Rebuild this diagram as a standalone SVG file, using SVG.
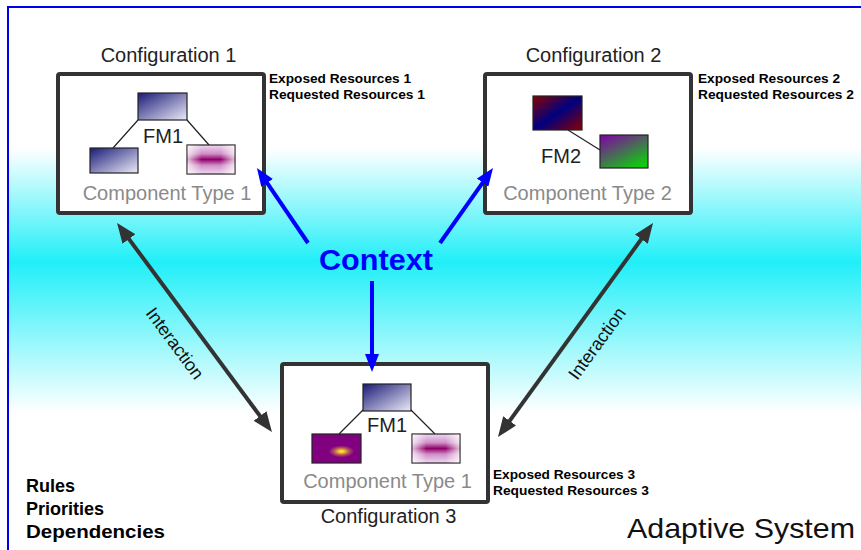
<svg xmlns="http://www.w3.org/2000/svg" width="861" height="550" viewBox="0 0 861 550">
  <style>
    text { font-family: "Liberation Sans", Arial, sans-serif; }
    .frame { fill: #ffffff; stroke: #333333; stroke-width: 4; }
    .cfg { font-size: 20px; fill: #222222; text-anchor: middle; }
    .ctype { font-size: 20px; fill: #8a8a8a; text-anchor: middle; }
    .fm { font-size: 20px; fill: #222222; text-anchor: middle; }
    .res { font-size: 13px; font-weight: bold; fill: #000000; }
    .tree { stroke: #222222; stroke-width: 1.2; fill: none; }
    .comp { stroke: #222222; stroke-width: 1.2; }
    .ctx { stroke: #0000ff; stroke-width: 4; fill: none; }
    .inter { stroke: #333333; stroke-width: 4; fill: none; }
    .interLabel { font-size: 18px; fill: #111111; text-anchor: middle; }
    .note { font-size: 18px; font-weight: bold; fill: #000000; }
  </style>
  <defs>
    <linearGradient id="bg" x1="0" y1="0" x2="0" y2="550" gradientUnits="userSpaceOnUse">
      <stop offset="0.27" stop-color="#ffffff"/>
      <stop offset="0.476" stop-color="#20eff8"/>
      <stop offset="0.75" stop-color="#ffffff"/>
    </linearGradient>
    <linearGradient id="navy" x1="0" y1="0" x2="1" y2="1">
      <stop offset="0" stop-color="#1a1a78"/>
      <stop offset="1" stop-color="#ecebf8"/>
    </linearGradient>
    <!-- magenta band: vertical falloff, softened at the ends by a white overlay -->
    <linearGradient id="band" x1="0" y1="0" x2="0" y2="1">
      <stop offset="0" stop-color="#f0d8f0"/>
      <stop offset="0.3" stop-color="#d090c8"/>
      <stop offset="0.5" stop-color="#900068"/>
      <stop offset="0.7" stop-color="#d090c8"/>
      <stop offset="1" stop-color="#f0d8f0"/>
    </linearGradient>
    <linearGradient id="bandEnds" x1="0" y1="0" x2="1" y2="0">
      <stop offset="0" stop-color="#ffffff" stop-opacity="0.75"/>
      <stop offset="0.3" stop-color="#ffffff" stop-opacity="0"/>
      <stop offset="0.7" stop-color="#ffffff" stop-opacity="0"/>
      <stop offset="1" stop-color="#ffffff" stop-opacity="0.75"/>
    </linearGradient>
    <radialGradient id="hot" cx="0.6" cy="0.6" r="0.5" gradientTransform="translate(0.6 0.6) scale(0.7 0.55) translate(-0.6 -0.6)">
      <stop offset="0" stop-color="#ffff10"/>
      <stop offset="0.18" stop-color="#f0c030"/>
      <stop offset="0.45" stop-color="#b05060"/>
      <stop offset="0.75" stop-color="#800080"/>
      <stop offset="1" stop-color="#800080"/>
    </radialGradient>
    <linearGradient id="redNavy" x1="0" y1="0" x2="1" y2="1">
      <stop offset="0" stop-color="#8a0000"/>
      <stop offset="0.5" stop-color="#000080"/>
      <stop offset="1" stop-color="#8a0000"/>
    </linearGradient>
    <linearGradient id="purpleGreen" x1="0" y1="0" x2="0.7" y2="1">
      <stop offset="0" stop-color="#8000a8"/>
      <stop offset="0.5" stop-color="#506060"/>
      <stop offset="1" stop-color="#10c810"/>
    </linearGradient>
    <marker id="headBlue" viewBox="0 0 18 14" refX="6" refY="7" markerWidth="18" markerHeight="14" markerUnits="userSpaceOnUse" orient="auto">
      <path d="M0,0 L18,7 L0,14 z" fill="#0000ff"/>
    </marker>
    <marker id="headGray" viewBox="0 0 20 16" refX="8" refY="8" markerWidth="20" markerHeight="16" markerUnits="userSpaceOnUse" orient="auto-start-reverse">
      <path d="M0,0 L20,8 L0,16 z" fill="#333333"/>
    </marker>
  </defs>

  <!-- background band and system border -->
  <rect x="0" y="0" width="861" height="550" fill="#ffffff"/>
  <rect x="8" y="7" width="853" height="543" fill="url(#bg)"/>
  <path d="M8,550 L8,7 L861,7" fill="none" stroke="#0000ee" stroke-width="2"/>

  <!-- configuration 1 -->
  <g id="config1">
    <text class="cfg" x="168.5" y="62">Configuration 1</text>
    <rect class="frame" x="58" y="74" width="206" height="139" rx="2"/>
    <path class="tree" d="M138,120 L113,148 M187,120 L209,145"/>
    <rect class="comp" x="138" y="93" width="49" height="27" fill="url(#navy)"/>
    <rect class="comp" x="90" y="148" width="48" height="25" fill="url(#navy)"/>
    <rect class="comp" x="187" y="145" width="48" height="29" fill="url(#band)"/>
    <rect x="187.6" y="145.6" width="46.8" height="27.8" fill="url(#bandEnds)"/>
    <text class="fm" x="163" y="143">FM1</text>
    <text class="ctype" x="167" y="200">Component Type 1</text>
    <text class="res" x="269" y="83" textLength="142" lengthAdjust="spacingAndGlyphs">Exposed Resources 1</text>
    <text class="res" x="269" y="99" textLength="156" lengthAdjust="spacingAndGlyphs">Requested Resources 1</text>
  </g>

  <!-- configuration 2 -->
  <g id="config2">
    <text class="cfg" x="593.5" y="62">Configuration 2</text>
    <rect class="frame" x="485" y="74" width="206" height="139" rx="2"/>
    <path class="tree" d="M568,130 L600,150"/>
    <rect class="comp" x="533" y="96" width="49" height="34" fill="url(#redNavy)"/>
    <rect class="comp" x="600" y="135" width="48" height="33" fill="url(#purpleGreen)"/>
    <text class="fm" x="561" y="163">FM2</text>
    <text class="ctype" x="587.5" y="200">Component Type 2</text>
    <text class="res" x="698" y="83" textLength="142" lengthAdjust="spacingAndGlyphs">Exposed Resources 2</text>
    <text class="res" x="698" y="99" textLength="156" lengthAdjust="spacingAndGlyphs">Requested Resources 2</text>
  </g>

  <!-- configuration 3 -->
  <g id="config3">
    <rect class="frame" x="282" y="364" width="206" height="138" rx="2"/>
    <path class="tree" d="M363,410 L339,434 M411,410 L435,434"/>
    <rect class="comp" x="363" y="384" width="48" height="27" fill="url(#navy)"/>
    <rect class="comp" x="312" y="434" width="49" height="29" fill="url(#hot)"/>
    <rect class="comp" x="412" y="434" width="48" height="29" fill="url(#band)"/>
    <rect x="412.6" y="434.6" width="46.8" height="27.8" fill="url(#bandEnds)"/>
    <text class="fm" x="387" y="432">FM1</text>
    <text class="ctype" x="387.5" y="488">Component Type 1</text>
    <text class="cfg" x="388.5" y="523">Configuration 3</text>
    <text class="res" x="493" y="479" textLength="142" lengthAdjust="spacingAndGlyphs">Exposed Resources 3</text>
    <text class="res" x="493" y="495" textLength="156" lengthAdjust="spacingAndGlyphs">Requested Resources 3</text>
  </g>

  <!-- context source -->
  <g id="context">
    <text x="319" y="270" font-size="29" font-weight="bold" fill="#0000ff" textLength="114" lengthAdjust="spacingAndGlyphs">Context</text>
  </g>

  <!-- connectors -->
  <g id="connectors">
    <line class="ctx" x1="308" y1="243" x2="263.7" y2="177.9" marker-end="url(#headBlue)"/>
    <line class="ctx" x1="440" y1="243" x2="486.1" y2="177.8" marker-end="url(#headBlue)"/>
    <line class="ctx" x1="372" y1="281" x2="372" y2="360" marker-end="url(#headBlue)"/>
    <line class="inter" x1="124.2" y1="232.6" x2="264.8" y2="422.4" marker-start="url(#headGray)" marker-end="url(#headGray)"/>
    <line class="inter" x1="505" y1="427.3" x2="646" y2="232.7" marker-start="url(#headGray)" marker-end="url(#headGray)"/>
    <text class="interLabel" transform="translate(170 347) rotate(53.4)">Interaction</text>
    <text class="interLabel" transform="translate(602 347) rotate(-54)">Interaction</text>
  </g>

  <!-- system-wide notes -->
  <g id="policies">
    <text class="note" x="26" y="492">Rules</text>
    <text class="note" x="26" y="515">Priorities</text>
    <text class="note" x="26" y="538" textLength="139" lengthAdjust="spacingAndGlyphs">Dependencies</text>
  </g>
  <g id="system-title">
    <text x="627" y="538" font-size="28" fill="#111111" textLength="228" lengthAdjust="spacingAndGlyphs">Adaptive System</text>
  </g>
</svg>
